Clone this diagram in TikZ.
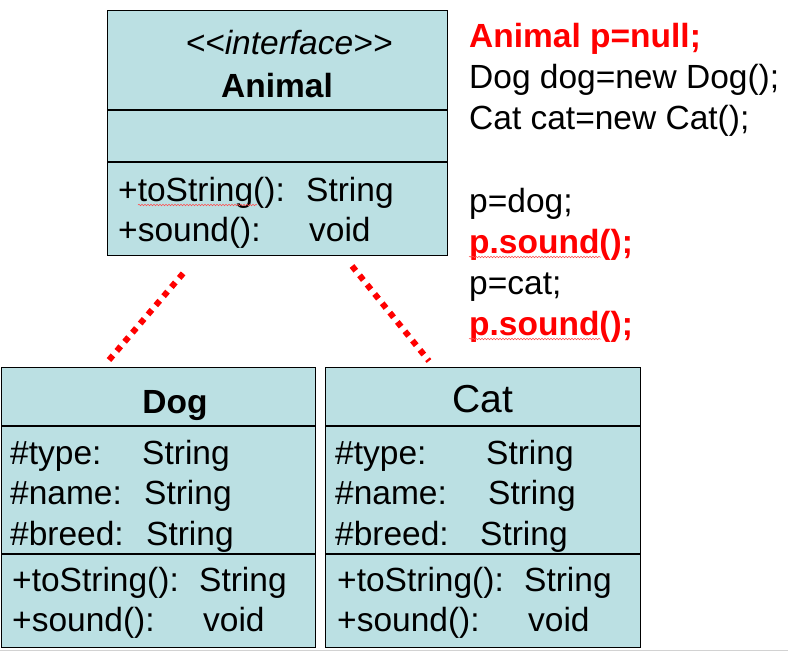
\documentclass[tikz,border=0pt]{standalone}
\usepackage{fontspec}
\setmainfont{Liberation Sans}
\usetikzlibrary{decorations.pathmorphing}

\definecolor{umlfill}{HTML}{BBE0E3}
\definecolor{codered}{RGB}{255,0,0}

\begin{document}
\begin{tikzpicture}[x=1pt, y=-1pt,
    classbox/.style={draw, line width=1.3pt, fill=umlfill, rectangle, inner sep=0pt, anchor=north west},
    member/.style={anchor=base west, inner sep=0pt, font=\fontsize{33.5}{40}\selectfont},
    title/.style={anchor=base, inner sep=0pt, font=\fontsize{33.5}{40}\selectfont},
    codeline/.style={anchor=base west, inner sep=0pt, font=\fontsize{33.5}{40}\selectfont},
    hot/.style={text=codered, font=\fontsize{33.5}{40}\selectfont\bfseries},
    realize/.style={draw=codered, line width=6pt, dash pattern=on 6pt off 6pt},
    squiggle/.style={draw=codered!70, line width=0.5pt, decorate, decoration={snake, amplitude=0.8pt, segment length=3pt}}
]
    \useasboundingbox (0,0) rectangle (788,651);
    \draw[gray!35, line width=1pt] (0,650) -- (788,650);

    % Boxes
    \node[classbox, minimum width=340pt, minimum height=245pt] (animal) at (107,10) {};
    \node[classbox, minimum width=314pt, minimum height=280pt] (dog) at (1,367) {};
    \node[classbox, minimum width=315pt, minimum height=280pt] (cat) at (325,367) {};

    % Compartments
    \draw[line width=2.2pt] (animal.west |- 0,110) -- (animal.east |- 0,110);
    \draw[line width=1.3pt] (animal.west |- 0,162) -- (animal.east |- 0,162);
    \draw[line width=1.3pt] (dog.west |- 0,426) -- (dog.east |- 0,426);
    \draw[line width=1.3pt] (dog.west |- 0,554) -- (dog.east |- 0,554);
    \draw[line width=1.3pt] (cat.west |- 0,426) -- (cat.east |- 0,426);
    \draw[line width=1.3pt] (cat.west |- 0,554) -- (cat.east |- 0,554);

    % Animal
    \node[title, font=\fontsize{33.5}{40}\selectfont\itshape] (animalstereo) at (289,54) {{<}{<}interface{>}{>}};
    \node[title, font=\fontsize{33.5}{40}\selectfont\bfseries] (animalname) at (277,97) {Animal};
    \node[member] (animaltostr) at (118,201) {\makebox[188pt][l]{+toString():}String};
    \node[member] (animalsound) at (118,241) {\makebox[191pt][l]{+sound():}void};
    \draw[squiggle] (138,205) -- (257,205);

    % Dog
    \node[title, font=\fontsize{33.5}{40}\selectfont\bfseries] (dogname) at (175,413) {Dog};
    \node[member] (dogtype) at (10,464) {\makebox[132pt][l]{\#type:}String};
    \node[member] (dognm) at (10,504) {\makebox[134pt][l]{\#name:}String};
    \node[member] (dogbreed) at (10,545) {\makebox[136pt][l]{\#breed:}String};
    \node[member] (dogtostr) at (12,591) {\makebox[187pt][l]{+toString():}String};
    \node[member] (dogsound) at (12,631) {\makebox[191pt][l]{+sound():}void};

    % Cat
    \node[title, font=\fontsize{39}{46}\selectfont] (catname) at (483,412) {Cat};
    \node[member] (cattype) at (335,464) {\makebox[151pt][l]{\#type:}String};
    \node[member] (catnm) at (335,504) {\makebox[153pt][l]{\#name:}String};
    \node[member] (catbreed) at (335,545) {\makebox[145pt][l]{\#breed:}String};
    \node[member] (cattostr) at (337,591) {\makebox[187pt][l]{+toString():}String};
    \node[member] (catsound) at (337,631) {\makebox[191pt][l]{+sound():}void};

    % Code
    \node[codeline, hot] (decl) at (469,47) {Animal p=null;};
    \node[codeline] (newdog) at (469,88) {Dog dog=new Dog();};
    \node[codeline] (newcat) at (469,129) {Cat cat=new Cat();};
    \node[codeline] (assigndog) at (469,212) {p=dog;};
    \node[codeline, hot] (calldog) at (469,253) {p.sound();};
    \node[codeline] (assigncat) at (469,294) {p=cat;};
    \node[codeline, hot] (callcat) at (469,335) {p.sound();};
    \draw[squiggle] (calldog.base west) ++(0,4) -- ++(132,0);
    \draw[squiggle] (callcat.base west) ++(0,4) -- ++(132,0);

    % Realizations
    \coordinate (dogtip) at (109,360);
    \coordinate (animalleft) at (186,270);
    \coordinate (cattip) at (429,361);
    \coordinate (animalright) at (352,266);
    \draw[realize] (dogtip) -- (animalleft);
    \draw[realize] (animalright) -- (cattip);
\end{tikzpicture}
\end{document}
